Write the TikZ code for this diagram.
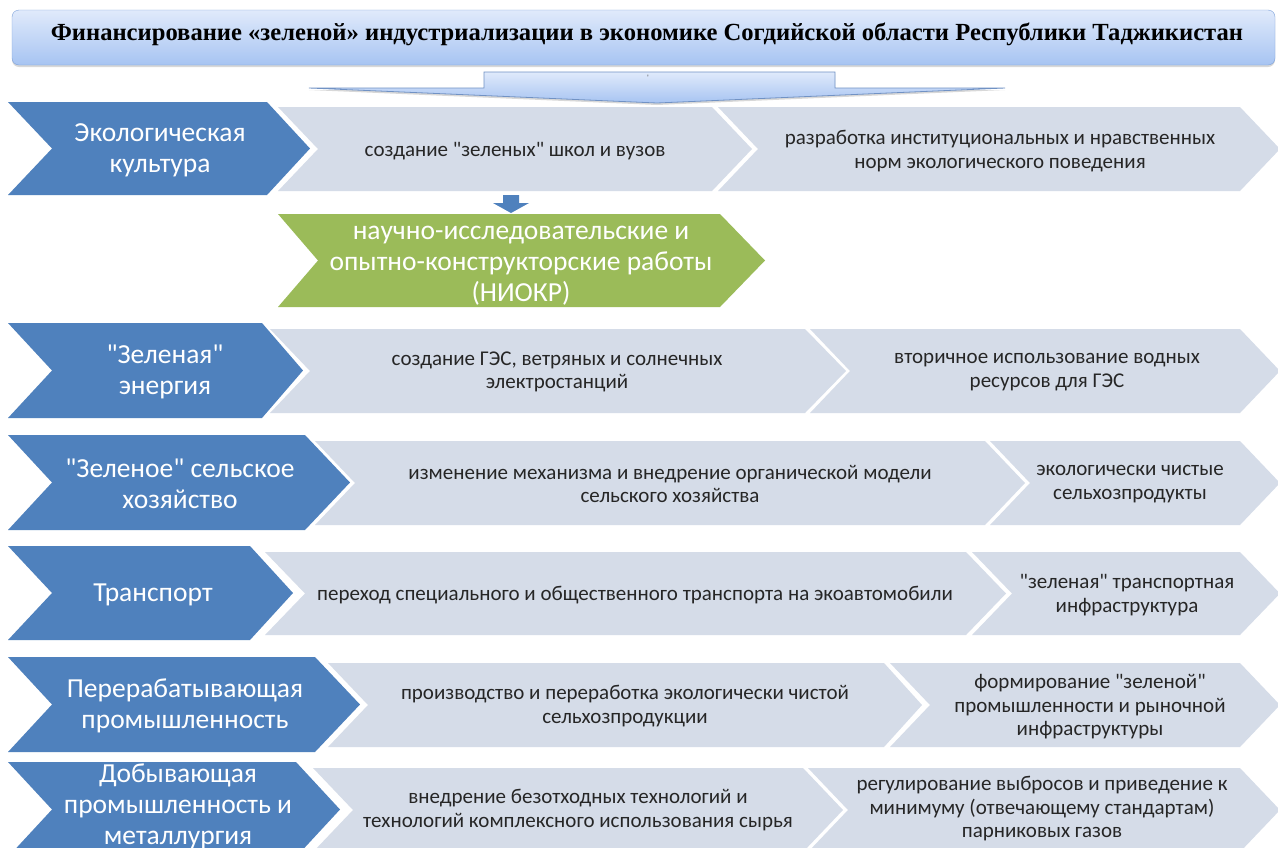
\documentclass[tikz,border=0pt]{standalone}
\usepackage{fontspec}
\setmainfont{Carlito}[Ligatures=TeXOff]
\newfontfamily\ttlfont{Liberation Serif}
\usetikzlibrary{shadows}
\definecolor{chevblue}{HTML}{4F81BD}
\definecolor{chevgray}{HTML}{D5DCE8}
\definecolor{chevgreen}{HTML}{9BBB59}
\definecolor{ttltop}{HTML}{E0EAFB}
\definecolor{ttlbot}{HTML}{A7C4F2}
\definecolor{ttlborder}{HTML}{7EA2DA}
\definecolor{txtdark}{HTML}{262626}
% #1 style, #2 left x, #3 notch depth, #4 right top x, #5 tip x, #6 top y, #7 bottom y
\newcommand{\chevdraw}[7]{\fill[#1] (#2,#6) -- (#4,#6) -- (#5,{(#6+#7)/2}) -- (#4,#7) -- (#2,#7) -- ({#2+#3},{(#6+#7)/2}) -- cycle;}
\tikzset{
  bluetxt/.style={text=white, align=center, inner sep=0pt, font=\fontsize{27.5}{31}\selectfont, yshift=-2pt},
  greentxt/.style={text=white, align=center, inner sep=0pt, font=\fontsize{27.5}{31}\selectfont},
  graytxt/.style={text=txtdark, align=center, inner sep=0pt, font=\fontsize{21}{23.5}\selectfont, yshift=-2pt},
  bluefill/.style={fill=chevblue},
  grayfill/.style={fill=chevgray},
  greenfill/.style={fill=chevgreen},
}
\begin{document}
\begin{tikzpicture}[x=1pt,y=-1pt]
\useasboundingbox (0,0) rectangle (1278,847);
\fill[white] (0,0) rectangle (1278,847);
% title
\draw[ttlborder, rounded corners=7pt, top color=ttltop, bottom color=ttlbot, drop shadow={shadow xshift=0pt, shadow yshift=-2pt, opacity=0.3}] (12,10) rectangle (1275,65);
\node[font=\ttlfont\bfseries\fontsize{24.6}{24.6}\selectfont, inner sep=0pt] (title) at (647,34) {Финансирование «зеленой» индустриализации в экономике Согдийской области Республики Таджикистан};
% callout arrow under the title
\draw[ttlborder!90!black, line width=0.8pt, top color=ttltop, bottom color=ttlbot, drop shadow={shadow xshift=0pt, shadow yshift=-2pt, opacity=0.3}] (484,72) -- (835,72) -- (835,88) -- (1005,88) -- (657,103) -- (309,88) -- (484,88) -- cycle;
\node[font=\fontsize{8}{8}\selectfont, inner sep=0pt, text=black!70] (tick) at (648,78) {'};
% row 1
\chevdraw{bluefill}{8}{44}{267}{310}{102}{195}
\chevdraw{grayfill}{278}{40}{712}{752}{107}{191}
\chevdraw{grayfill}{718}{40}{1240}{1280}{107}{191}
\node[bluetxt] (b1) at (160,148) {Экологическая\\культура};
\node[graytxt] (g11) at (515,149) {создание "зеленых" школ и вузов};
\node[graytxt] (g12) at (1000,149) {разработка институциональных и нравственных\\норм экологического поведения};
% small arrow
\fill[chevblue] (503,195) -- (519,195) -- (519,203) -- (529,203) -- (511,213) -- (493,203) -- (503,203) -- cycle;
% green
\chevdraw{greenfill}{278}{40}{720}{765}{214}{307}
\node[greentxt] (niokr) at (521,266) {научно-исследовательские и\\опытно-конструкторские работы\\(НИОКР)};
% row 2
\chevdraw{bluefill}{8}{44}{262}{303}{323}{418}
\chevdraw{grayfill}{270}{40}{805}{846}{329}{413}
\chevdraw{grayfill}{810}{40}{1240}{1280}{329}{413}
\node[bluetxt] (b2) at (165,370) {"Зеленая"\\энергия};
\node[graytxt] (g21) at (557,370) {создание ГЭС, ветряных и солнечных\\электростанций};
\node[graytxt] (g22) at (1047,370) {вторичное использование водных\\ресурсов для ГЭС};
% row 3
\chevdraw{bluefill}{8}{44}{305}{350}{435}{530}
\chevdraw{grayfill}{315}{40}{985}{1025}{441}{525}
\chevdraw{grayfill}{990}{40}{1240}{1280}{441}{525}
\node[bluetxt] (b3) at (180,482) {"Зеленое" сельское\\хозяйство};
\node[graytxt] (g31) at (670,482) {изменение механизма и внедрение органической модели\\сельского хозяйства};
\node[graytxt] (g32) at (1130,482) {экологически чистые\\сельхозпродукты};
% row 4
\chevdraw{bluefill}{8}{44}{250}{293}{546}{640}
\chevdraw{grayfill}{265}{40}{966}{1006}{552}{635}
\chevdraw{grayfill}{972}{40}{1240}{1280}{552}{635}
\node[bluetxt] (b4) at (153,593) {Транспорт};
\node[graytxt] (g41) at (635,593) {переход специального и общественного транспорта на экоавтомобили};
\node[graytxt] (g42) at (1127,593) {"зеленая" транспортная\\инфраструктура};
% row 5
\chevdraw{bluefill}{8}{44}{315}{360}{657}{752}
\chevdraw{grayfill}{328}{40}{884}{922}{663}{747}
\chevdraw{grayfill}{890}{40}{1240}{1280}{663}{747}
\node[bluetxt] (b5) at (185,704) {Перерабатывающая\\промышленность};
\node[graytxt] (g51) at (625,704) {производство и переработка экологически чистой\\сельхозпродукции};
\node[graytxt] (g52) at (1090,705) {формирование "зеленой"\\промышленности и рыночной\\инфраструктуры};
% row 6
\chevdraw{bluefill}{8}{44}{296}{340}{762}{857}
\chevdraw{grayfill}{313}{40}{803}{843}{768}{852}
\chevdraw{grayfill}{808}{40}{1240}{1280}{768}{852}
\node[bluetxt] (b6) at (178,804) {Добывающая\\промышленность и\\металлургия};
\node[graytxt] (g61) at (578,808) {внедрение безотходных технологий и\\технологий комплексного использования сырья};
\node[graytxt] (g62) at (1042,807) {регулирование выбросов и приведение к\\минимуму (отвечающему стандартам)\\парниковых газов};
\end{tikzpicture}
\end{document}
